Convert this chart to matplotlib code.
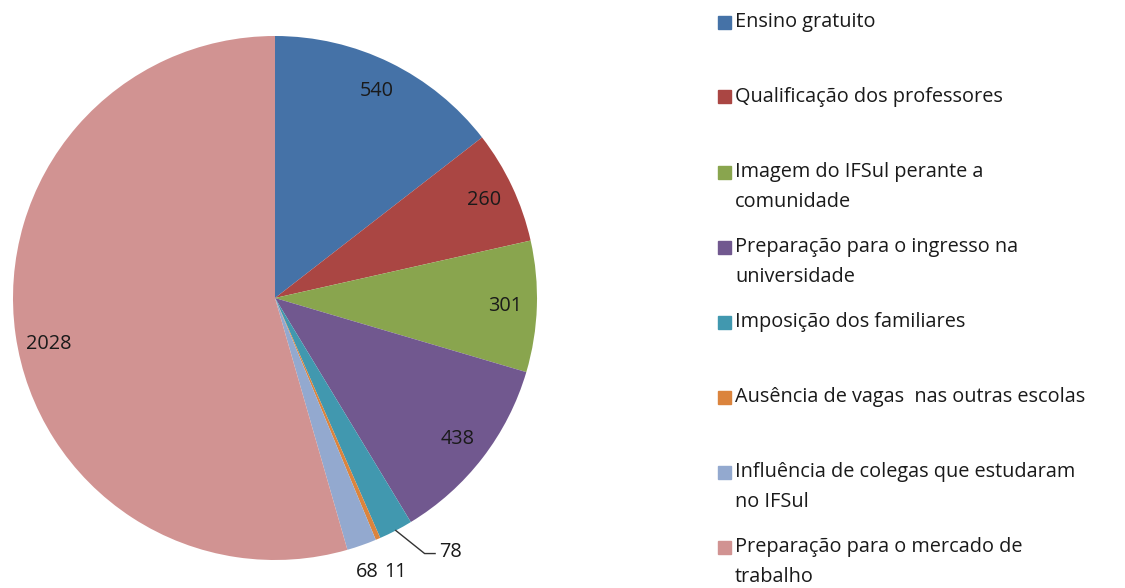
import numpy as np
import matplotlib
matplotlib.use("Agg")
import matplotlib.pyplot as plt
from matplotlib.patches import Rectangle

plt.rcParams['font.family'] = ['Open Sans', 'DejaVu Sans']

# Data
categories = [
    "Ensino gratuito",
    "Qualificação dos professores",
    "Imagem do IFSul perante a\ncomunidade",
    "Preparação para o ingresso na\nuniversidade",
    "Imposição dos familiares",
    "Ausência de vagas  nas outras escolas",
    "Influência de colegas que estudaram\nno IFSul",
    "Preparação para o mercado de\ntrabalho",
]
values = [540, 260, 301, 438, 78, 11, 68, 2028]
colors = ['#4572A7', '#AA4643', '#89A54E', '#71588F',
          '#4198AF', '#DB843D', '#93A9CF', '#D19392']

W, H = 1125, 588
fig = plt.figure(figsize=(W / 100, H / 100), dpi=100)

# pie axes: centre (275, 298), radius 262 px
cx, cy, r = 275, 298, 262
ax = fig.add_axes([(cx - r) / W, (H - cy - r) / H, 2 * r / W, 2 * r / H])
wedges, _ = ax.pie(values, colors=colors, startangle=90, counterclock=False,
                   radius=1, wedgeprops=dict(linewidth=0))
ax.set_xlim(-1, 1)
ax.set_ylim(-1, 1)
ax.set_aspect('equal')
ax.axis('off')

fs = 14.3
txt_col = '#1a1a1a'
for i, (w, v) in enumerate(zip(wedges, values)):
    mid = np.deg2rad((w.theta1 + w.theta2) / 2)
    if v > 1000:
        # Excel puts the big label a bit lower
        mid += np.deg2rad(3.5)
    if v > 200:
        d = 0.88
        ax.text(d * np.cos(mid), d * np.sin(mid), str(v), ha='center', va='center',
                fontsize=fs, color=txt_col)
    elif v == 78:
        ex, ey = np.cos(mid), np.sin(mid)
        ax.plot([ex, ex + 0.11, ex + 0.15], [ey, ey - 0.088, ey - 0.088],
                color='#333333', lw=1, clip_on=False)
        ax.text(ex + 0.165, ey - 0.083, str(v), ha='left', va='center',
                fontsize=fs, color=txt_col, clip_on=False)
    else:
        d = 1.06 if v > 50 else 1.17
        ax.text(d * np.cos(mid), -1.045, str(v), ha='center', va='center',
                fontsize=fs, color=txt_col, clip_on=False)

# legend drawn by hand
lx, tx = 718, 735
y = 22
sq = 13
for lab, c in zip(categories, colors):
    fig.patches.append(Rectangle((lx / W, (H - y - sq / 2) / H), sq / W, sq / H,
                                 transform=fig.transFigure, color=c, figure=fig))
    for k, line in enumerate(lab.split("\n")):
        fig.text(tx / W, (H - y - 30 * k) / H, line, ha='left', va='center',
                 fontsize=fs, color=txt_col)
    y += 75

fig.savefig('out.png', dpi=100)
